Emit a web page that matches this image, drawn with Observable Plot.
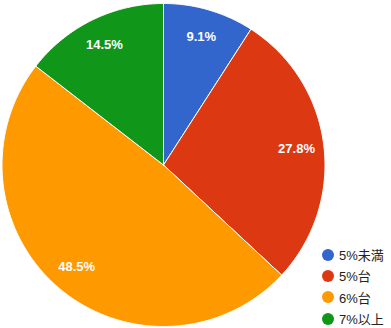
<!DOCTYPE html>
<html><head><meta charset="utf-8">
<script src="https://cdn.jsdelivr.net/npm/d3@7"></script>
<script src="https://cdn.jsdelivr.net/npm/@observablehq/plot@0.6"></script>
<style>
body{margin:0;background:#fff;font-family:Arial,"Liberation Sans","Noto Sans CJK JP",sans-serif;}
#wrap{position:relative;width:391px;height:328px;}
#legend{position:absolute;left:322px;top:244px;font-size:13px;color:#222;}
.item{display:flex;align-items:center;height:21.3px;}
.dot{width:12px;height:12px;border-radius:50%;margin-right:5px;}
</style></head>
<body><div id="wrap"><div id="legend"></div></div>
<script>
const categories = ["5%未満", "5%台", "6%台", "7%以上"];
const values = [9.1, 27.8, 48.5, 14.5];
const colors = ["#3366cc", "#dc3912", "#ff9900", "#109618"];

const total = d3.sum(values);
const pie = d3.pie().sort(null).value(d => d.value)(categories.map((c, i) => ({cat: c, value: values[i]})));

const poly = [];
pie.forEach(s => {
  const n = Math.max(4, Math.ceil((s.endAngle - s.startAngle) * 80));
  poly.push({cat: s.data.cat, x: 0, y: 0});
  for (let k = 0; k <= n; k++) {
    const a = s.startAngle + (s.endAngle - s.startAngle) * k / n;
    poly.push({cat: s.data.cat, x: Math.sin(a), y: Math.cos(a)});
  }
  poly.push({cat: s.data.cat, x: 0, y: 0});
});
const labels = pie.map(s => {
  const a = (s.startAngle + s.endAngle) / 2;
  return {cat: s.data.cat, x: 0.83 * Math.sin(a), y: 0.83 * Math.cos(a), text: s.data.value.toFixed(1) + "%"};
});

const chart = Plot.plot({
  width: 391, height: 328,
  marginLeft: 1.5, marginRight: 66.5, marginTop: 3, marginBottom: 2,
  x: {domain: [-1, 1], axis: null},
  y: {domain: [-1, 1], axis: null},
  color: {domain: categories, range: colors},
  style: {background: "transparent"},
  marks: [
    Plot.line(poly, {x: "x", y: "y", z: "cat", fill: "cat", stroke: "#fff", strokeWidth: 1, curve: "linear-closed"}),
    Plot.text(labels, {x: "x", y: "y", text: "text", fill: "#fff", fontSize: 13, fontWeight: "bold", fontFamily: "Arial, 'Liberation Sans', sans-serif"})
  ]
});
document.getElementById("wrap").prepend(chart);
chart.style.position = "absolute"; chart.style.left = "0"; chart.style.top = "0";

const lg = document.getElementById("legend");
categories.forEach((c, i) => {
  const d = document.createElement("div"); d.className = "item";
  d.innerHTML = `<span class="dot" style="background:${colors[i]}"></span><span>${c}</span>`;
  lg.appendChild(d);
});
</script></body></html>
